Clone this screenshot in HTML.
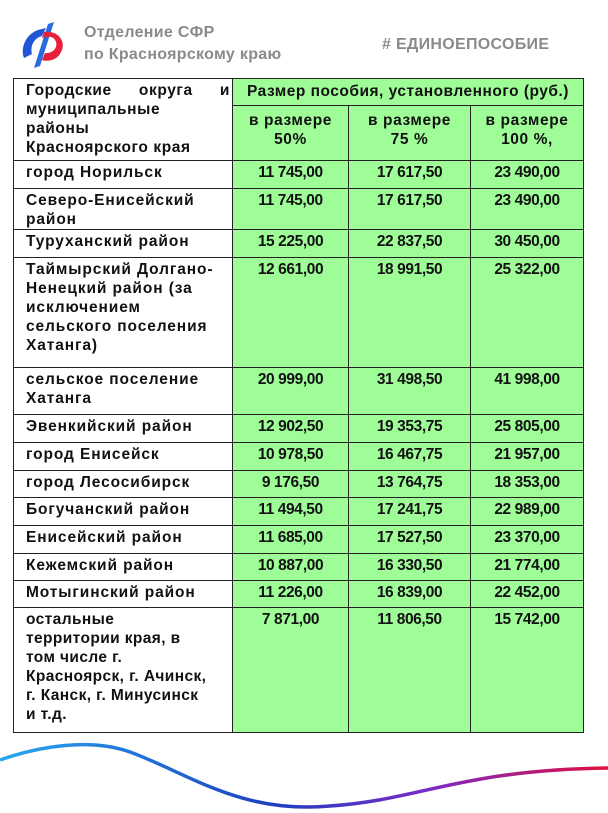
<!DOCTYPE html>
<html><head><meta charset="utf-8"><style>
body{margin:0;width:608px;height:813px;background:#fff;position:relative;overflow:hidden;font-family:"Liberation Sans","DejaVu Sans",sans-serif;}
.h{position:absolute;color:#8a8a8a;font-weight:bold;letter-spacing:0.3px}
table{position:absolute;left:13px;top:78px;border-collapse:collapse;table-layout:fixed;}
td{border:1.3px solid #222;vertical-align:top;font-weight:bold;font-size:15.5px;line-height:19px;color:#111;padding:2px 4px 0 12px;overflow:hidden;letter-spacing:0.9px;}
td.g{background:#9ffd98;text-align:center;padding:2px 0 0 0;letter-spacing:-0.4px;}
td.g.t{letter-spacing:0.6px}
</style></head><body>
<svg style="position:absolute;left:18px;top:20px" width="50" height="50" viewBox="0 0 50 50">
<path d="M6 38 C2 28 8 14 20 10 L28 8 L24 16 C16 18 12 26 14 34 Z" fill="#2255d6"/>
<path d="M30 4 L36 2 L22 46 L16 48 Z" fill="#2a6be0"/>
<path d="M26 12 C40 10 50 22 42 34 C38 40 30 42 24 40 L27 33 C34 34 40 28 38 22 C36 16 30 16 24 18 Z" fill="#e8203a"/>
</svg>
<div class="h" style="left:84px;top:22px;font-size:16px;line-height:22px">Отделение СФР<br>по Красноярскому краю</div>
<div class="h" style="left:382px;top:36px;font-size:16px">#&nbsp;ЕДИНОЕПОСОБИЕ</div>
<table>
<colgroup><col style="width:219px"><col style="width:116px"><col style="width:122px"><col style="width:113px"></colgroup>
<tr style="height:27px"><td rowspan="2" style="padding-right:2px;letter-spacing:0.6px"><div style="display:flex;justify-content:space-between"><span>Городские</span><span>округа</span><span>и</span></div>муниципальные<br>районы<br>Красноярского края</td><td class="g t" colspan="3" style="padding-top:3px;letter-spacing:0.5px">Размер пособия, установленного (руб.)</td></tr>
<tr style="height:55px"><td class="g t" style="padding-top:5px">в размере<br>50%</td><td class="g t" style="padding-top:5px">в размере<br>75 %</td><td class="g t" style="padding-top:5px">в размере<br>100 %,</td></tr>
<tr style="height:28px"><td>город Норильск</td><td class="g">11 745,00</td><td class="g">17 617,50</td><td class="g">23 490,00</td></tr>
<tr style="height:41px"><td>Северо-Енисейский<br>район</td><td class="g">11 745,00</td><td class="g">17 617,50</td><td class="g">23 490,00</td></tr>
<tr style="height:28px"><td>Туруханский район</td><td class="g">15 225,00</td><td class="g">22 837,50</td><td class="g">30 450,00</td></tr>
<tr style="height:110px"><td>Таймырский Долгано-<br>Ненецкий район (за<br>исключением<br>сельского поселения<br>Хатанга)</td><td class="g">12 661,00</td><td class="g">18 991,50</td><td class="g">25 322,00</td></tr>
<tr style="height:47px"><td>сельское поселение<br>Хатанга</td><td class="g">20 999,00</td><td class="g">31 498,50</td><td class="g">41 998,00</td></tr>
<tr style="height:28px"><td>Эвенкийский район</td><td class="g">12 902,50</td><td class="g">19 353,75</td><td class="g">25 805,00</td></tr>
<tr style="height:28px"><td>город Енисейск</td><td class="g">10 978,50</td><td class="g">16 467,75</td><td class="g">21 957,00</td></tr>
<tr style="height:27px"><td>город Лесосибирск</td><td class="g">9 176,50</td><td class="g">13 764,75</td><td class="g">18 353,00</td></tr>
<tr style="height:28px"><td>Богучанский район</td><td class="g">11 494,50</td><td class="g">17 241,75</td><td class="g">22 989,00</td></tr>
<tr style="height:28px"><td>Енисейский район</td><td class="g">11 685,00</td><td class="g">17 527,50</td><td class="g">23 370,00</td></tr>
<tr style="height:27px"><td>Кежемский район</td><td class="g">10 887,00</td><td class="g">16 330,50</td><td class="g">21 774,00</td></tr>
<tr style="height:27px"><td>Мотыгинский район</td><td class="g">11 226,00</td><td class="g">16 839,00</td><td class="g">22 452,00</td></tr>
<tr style="height:125px"><td style="letter-spacing:0.4px">остальные<br>территории края, в<br>том числе г.<br>Красноярск, г. Ачинск,<br>г. Канск, г. Минусинск<br>и т.д.</td><td class="g">7 871,00</td><td class="g">11 806,50</td><td class="g">15 742,00</td></tr>
</table>
<svg style="position:absolute;left:0;top:730px" width="608" height="83">
<defs><linearGradient id="w" x1="0" x2="1"><stop offset="0" stop-color="#28a8f0"/><stop offset="0.45" stop-color="#1e3fc0"/><stop offset="0.7" stop-color="#7a2bc8"/><stop offset="1" stop-color="#e01040"/></linearGradient></defs>
<path d="M0 30 C40 16 90 8 130 22 C190 44 240 84 330 76 C420 70 460 40 608 38" fill="none" stroke="url(#w)" stroke-width="3.5"/>
</svg>
</body></html>
